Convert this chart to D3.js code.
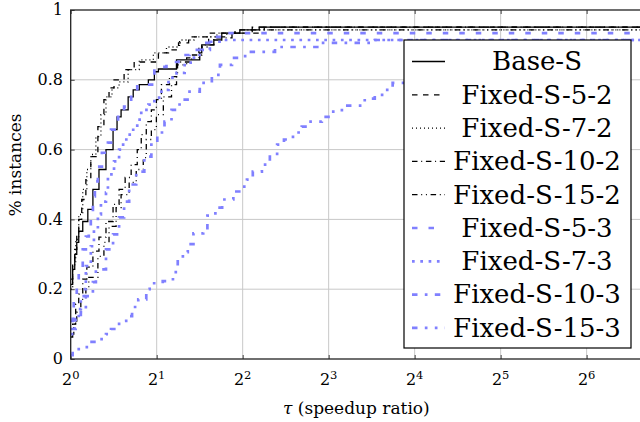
<!DOCTYPE html>
<html>
<head>
<meta charset="utf-8">
<script src="https://cdn.jsdelivr.net/npm/d3@7"></script>
<style>
  body { margin: 0; background: #fff; }
</style>
</head>
<body>
<svg></svg>
<script>
const svgWidth = 640;
const svgHeight = 422;
const padLeft = 70.7, padRight = 642, padTop = 10, padBottom = 359;
const serifFont = "'DejaVu Serif', 'Liberation Serif', serif";

// performance profile data: tau (speedup ratio) and fraction of instances
const baseS_tau = [1, 1.016, 1.033, 1.05, 1.067, 1.102, 1.148, 1.196, 1.256, 1.329, 1.407, 1.453, 1.501, 1.589, 1.655, 1.738, 1.87, 1.963, 2.028, 2.347, 2.83, 2.876, 3.17, 3.38, 3.91, 4.57];
const baseS_y = [0.214, 0.257, 0.30, 0.334, 0.366, 0.394, 0.429, 0.486, 0.543, 0.60, 0.657, 0.694, 0.714, 0.751, 0.771, 0.786, 0.80, 0.823, 0.831, 0.857, 0.877, 0.90, 0.914, 0.934, 0.943, 0.951];

const fixed52_tau = [1, 1.016, 1.033, 1.05, 1.067, 1.093, 1.13, 1.176, 1.245, 1.307, 1.362, 1.418, 1.538, 1.668, 2.028, 2.2, 2.385, 2.587, 3.04, 3.76, 4.32];
const fixed52_y = [0.229, 0.28, 0.314, 0.357, 0.40, 0.457, 0.514, 0.58, 0.666, 0.743, 0.777, 0.80, 0.829, 0.851, 0.877, 0.886, 0.906, 0.923, 0.934, 0.943, 0.951];

const fixed72_tau = [1, 1.016, 1.041, 1.067, 1.102, 1.139, 1.176, 1.225, 1.276, 1.329, 1.395, 1.477, 1.589, 1.738, 1.947, 2.164, 2.405, 2.70, 3.25, 4.15];
const fixed72_y = [0.20, 0.27, 0.343, 0.414, 0.486, 0.543, 0.586, 0.637, 0.70, 0.751, 0.777, 0.794, 0.829, 0.857, 0.877, 0.894, 0.914, 0.923, 0.934, 0.943];

const fixed102_tau = [1, 1.016, 1.041, 1.067, 1.102, 1.139, 1.196, 1.256, 1.329, 1.407, 1.477, 1.551, 1.628, 1.71, 1.766, 1.839, 1.916, 1.995, 2.078, 2.217, 2.366, 2.652, 2.876, 3.17, 3.67, 4.76];
const fixed102_y = [0.063, 0.10, 0.157, 0.186, 0.229, 0.263, 0.309, 0.349, 0.394, 0.443, 0.486, 0.52, 0.557, 0.60, 0.643, 0.68, 0.714, 0.743, 0.786, 0.809, 0.851, 0.871, 0.90, 0.92, 0.934, 0.951];

const fixed152_tau = [1, 1.025, 1.05, 1.085, 1.13, 1.157, 1.245, 1.307, 1.362, 1.442, 1.501, 1.602, 1.696, 1.795, 1.839, 1.916, 1.995, 2.11, 2.254, 2.347, 2.546, 2.81, 3.04, 3.52, 4.32];
const fixed152_y = [0.071, 0.10, 0.134, 0.171, 0.20, 0.234, 0.294, 0.334, 0.38, 0.434, 0.471, 0.506, 0.543, 0.577, 0.629, 0.657, 0.70, 0.751, 0.786, 0.843, 0.863, 0.894, 0.923, 0.934, 0.943];

const fixed53_tau = [1, 1.016, 1.025, 1.05, 1.067, 1.102, 1.13, 1.157, 1.176, 1.196, 1.215, 1.245, 1.286, 1.35, 1.384, 1.465, 1.538, 1.628, 1.71, 1.963, 2.164, 2.385, 2.606, 2.83, 3.12, 3.46];
const fixed53_y = [0.109, 0.143, 0.18, 0.214, 0.257, 0.314, 0.351, 0.38, 0.423, 0.466, 0.509, 0.551, 0.591, 0.62, 0.657, 0.694, 0.723, 0.751, 0.786, 0.837, 0.851, 0.871, 0.886, 0.906, 0.923, 0.934];

const fixed73_tau = [1, 1.033, 1.067, 1.085, 1.111, 1.13, 1.176, 1.206, 1.245, 1.276, 1.329, 1.35, 1.418, 1.477, 1.526, 1.589, 1.655, 1.71, 1.766, 1.87, 1.963, 2.078, 2.2, 2.347, 2.506, 2.70, 2.876, 3.07, 3.32];
const fixed73_y = [0.071, 0.114, 0.143, 0.171, 0.20, 0.266, 0.323, 0.371, 0.414, 0.451, 0.477, 0.529, 0.566, 0.60, 0.629, 0.643, 0.663, 0.686, 0.714, 0.729, 0.749, 0.771, 0.806, 0.82, 0.849, 0.871, 0.886, 0.909, 0.914];

const fixed103_tau = [1, 1.041, 1.085, 1.13, 1.196, 1.225, 1.329, 1.407, 1.477, 1.538, 1.602, 1.696, 1.81, 1.916, 2.01, 2.13, 2.254, 2.405, 2.606, 2.83, 3.12, 3.33, 3.67, 4.08, 5.19, 7.46, 11.6];
const fixed103_y = [0.086, 0.114, 0.134, 0.18, 0.22, 0.257, 0.314, 0.357, 0.406, 0.451, 0.50, 0.537, 0.58, 0.614, 0.649, 0.68, 0.714, 0.743, 0.766, 0.791, 0.814, 0.843, 0.863, 0.88, 0.894, 0.906, 0.914];

const fixed153_tau = [1, 1.016, 1.067, 1.157, 1.256, 1.329, 1.384, 1.477, 1.564, 1.64, 1.724, 1.839, 1.89, 2.10, 2.28, 2.37, 2.47, 2.57, 2.69, 2.91, 3.01, 3.21, 3.39, 3.71, 3.89, 4.14, 4.34, 4.67, 4.98, 5.28, 5.58, 6.0, 6.44, 6.71, 7.57, 8.2, 8.9, 10.7, 11.6, 12.6, 13.4, 16.7, 23.05, 31.8, 43.9, 60.6, 83.7];
const fixed153_y = [0.011, 0.023, 0.034, 0.049, 0.057, 0.071, 0.086, 0.109, 0.123, 0.149, 0.171, 0.20, 0.217, 0.223, 0.249, 0.28, 0.306, 0.329, 0.36, 0.366, 0.411, 0.434, 0.457, 0.48, 0.494, 0.514, 0.537, 0.557, 0.58, 0.614, 0.629, 0.649, 0.666, 0.68, 0.694, 0.709, 0.726, 0.746, 0.757, 0.771, 0.791, 0.814, 0.843, 0.871, 0.891, 0.909, 0.914];

const seriesNames = ["Base-S", "Fixed-S-5-2", "Fixed-S-7-2", "Fixed-S-10-2", "Fixed-S-15-2", "Fixed-S-5-3", "Fixed-S-7-3", "Fixed-S-10-3", "Fixed-S-15-3"];
const xTicks = [1, 2, 4, 8, 16, 32, 64];
const yTicks = [0, 0.2, 0.4, 0.6, 0.8, 1];
const tauMax = 100;

const black = "#000", blue = "#8080ff";
const styles = [
	{ color: black, width: 1.3, dash: null },
	{ color: black, width: 1.3, dash: "5.5,5.5" },
	{ color: black, width: 1.3, dash: "1,3" },
	{ color: black, width: 1.3, dash: "5.5,3.7,1,3.7" },
	{ color: black, width: 1.3, dash: "5.5,3.7,1,3.7,1,3.7" },
	{ color: blue, width: 2.7, dash: "5.5,11" },
	{ color: blue, width: 2.7, dash: "2.7,5.6" },
	{ color: blue, width: 2.7, dash: "5.5,7.3,2.7,7.3" },
	{ color: blue, width: 2.7, dash: "5.5,7.3,2.7,7.3,2.7,7.3" }
];

const series = [
	[baseS_tau, baseS_y], [fixed52_tau, fixed52_y], [fixed72_tau, fixed72_y],
	[fixed102_tau, fixed102_y], [fixed152_tau, fixed152_y], [fixed53_tau, fixed53_y],
	[fixed73_tau, fixed73_y], [fixed103_tau, fixed103_y], [fixed153_tau, fixed153_y]
].map(([t, v], i) => {
	let pts = t.map((d, j) => [d, v[j]]);
	pts.push([tauMax, v[v.length - 1]]);
	return { name: seriesNames[i], points: pts, style: styles[i] };
});

const svg = d3.select("svg")
				.attr("width", svgWidth)
				.attr("height", svgHeight)
				.style("font-family", serifFont)
				.style("display", "block");

let xScale = d3.scaleLog().base(2)
				.domain([1, tauMax])
				.range([padLeft, padRight]);
let yScale = d3.scaleLinear()
				.domain([0, 1])
				.range([padBottom, padTop]);

// grid
svg.append("g")
	.selectAll("line")
	.data(xTicks.slice(1))
	.enter()
	.append("line")
		.attr("x1", d => xScale(d)).attr("x2", d => xScale(d))
		.attr("y1", padTop).attr("y2", padBottom)
		.attr("stroke", "#c8c8c8").attr("stroke-width", 1);
svg.append("g")
	.selectAll("line")
	.data(yTicks.slice(1, -1))
	.enter()
	.append("line")
		.attr("x1", padLeft).attr("x2", padRight)
		.attr("y1", d => yScale(d)).attr("y2", d => yScale(d))
		.attr("stroke", "#c8c8c8").attr("stroke-width", 1);

// inner ticks
let xAxisB = d3.axisTop(xScale).tickValues(xTicks).tickSize(4).tickFormat("").tickSizeOuter(0);
let xAxisT = d3.axisBottom(xScale).tickValues(xTicks).tickSize(4).tickFormat("").tickSizeOuter(0);
let yAxisL = d3.axisRight(yScale).tickValues(yTicks).tickSize(4).tickFormat("").tickSizeOuter(0);
svg.append("g").attr("transform", `translate(0, ${padBottom})`).call(xAxisB);
svg.append("g").attr("transform", `translate(0, ${padTop})`).call(xAxisT);
svg.append("g").attr("transform", `translate(${padLeft}, 0)`).call(yAxisL);
svg.selectAll(".domain").remove();
svg.selectAll(".tick line").attr("stroke", "#444").attr("stroke-width", 1);

// clip
svg.append("clipPath").attr("id", "plotclip")
	.append("rect")
		.attr("x", padLeft).attr("y", padTop - 3)
		.attr("width", padRight - padLeft).attr("height", padBottom - padTop + 3);

let line = d3.line()
			.x(d => xScale(d[0]))
			.y(d => yScale(d[1]))
			.curve(d3.curveStepAfter);

// Data lines
svg.append("g")
	.attr("clip-path", "url(#plotclip)")
	.selectAll("path")
	.data(series)
	.enter()
	.append("path")
		.attr("d", d => line(d.points))
		.attr("fill", "none")
		.attr("stroke", d => d.style.color)
		.attr("stroke-width", d => d.style.width)
		.attr("stroke-dasharray", d => d.style.dash);

// frame
svg.append("rect")
	.attr("x", padLeft).attr("y", padTop)
	.attr("width", padRight - padLeft).attr("height", padBottom - padTop)
	.attr("fill", "none")
	.attr("stroke", "#222")
	.attr("stroke-width", 1.3);

// tick labels
let xLab = svg.append("g")
	.selectAll("text")
	.data(xTicks)
	.enter()
	.append("text")
		.attr("x", d => xScale(d))
		.attr("y", 385)
		.attr("text-anchor", "middle")
		.attr("font-size", "16px");
xLab.append("tspan").text("2");
xLab.append("tspan")
	.text(d => Math.round(Math.log2(d)))
	.attr("dy", "-6")
	.attr("font-size", "11.5px");

svg.append("g")
	.selectAll("text")
	.data(yTicks)
	.enter()
	.append("text")
		.text(d => d3.format("~g")(d))
		.attr("x", 63)
		.attr("y", d => yScale(d))
		.attr("dy", "0.33em")
		.attr("text-anchor", "end")
		.attr("font-size", "16px");

// Axes labels
svg.append("text")
	.attr("x", (padLeft + padRight) / 2)
	.attr("y", 414)
	.attr("text-anchor", "middle")
	.attr("font-size", "17px")
	.html('<tspan font-style="italic">τ</tspan> (speedup ratio)');

svg.append("text")
	.text("% instances")
	.attr("transform", "rotate(-90)")
	.attr("x", -165)
	.attr("y", 21)
	.attr("text-anchor", "middle")
	.attr("font-size", "17px");

// Legend
const legX = 404, legY = 40, legW = 227, legH = 308, rowH = 33.3;
let legend = svg.append("g");
legend.append("rect")
	.attr("x", legX).attr("y", legY)
	.attr("width", legW).attr("height", legH)
	.attr("fill", "#fff")
	.attr("stroke", "#000")
	.attr("stroke-width", 1.2);
let rows = legend.selectAll("g")
	.data(series)
	.enter()
	.append("g")
		.attr("transform", (d, i) => `translate(0, ${legY + 21.5 + i * rowH})`);
rows.append("line")
	.attr("x1", 412).attr("x2", 445)
	.attr("y1", 0).attr("y2", 0)
	.attr("stroke", d => d.style.color)
	.attr("stroke-width", d => d.style.width)
	.attr("stroke-dasharray", d => d.style.dash);
rows.append("text")
	.text(d => d.name)
	.attr("x", 537)
	.attr("y", 0)
	.attr("dy", "0.34em")
	.attr("text-anchor", "middle")
	.attr("font-size", "26px");
</script>
</body>
</html>
